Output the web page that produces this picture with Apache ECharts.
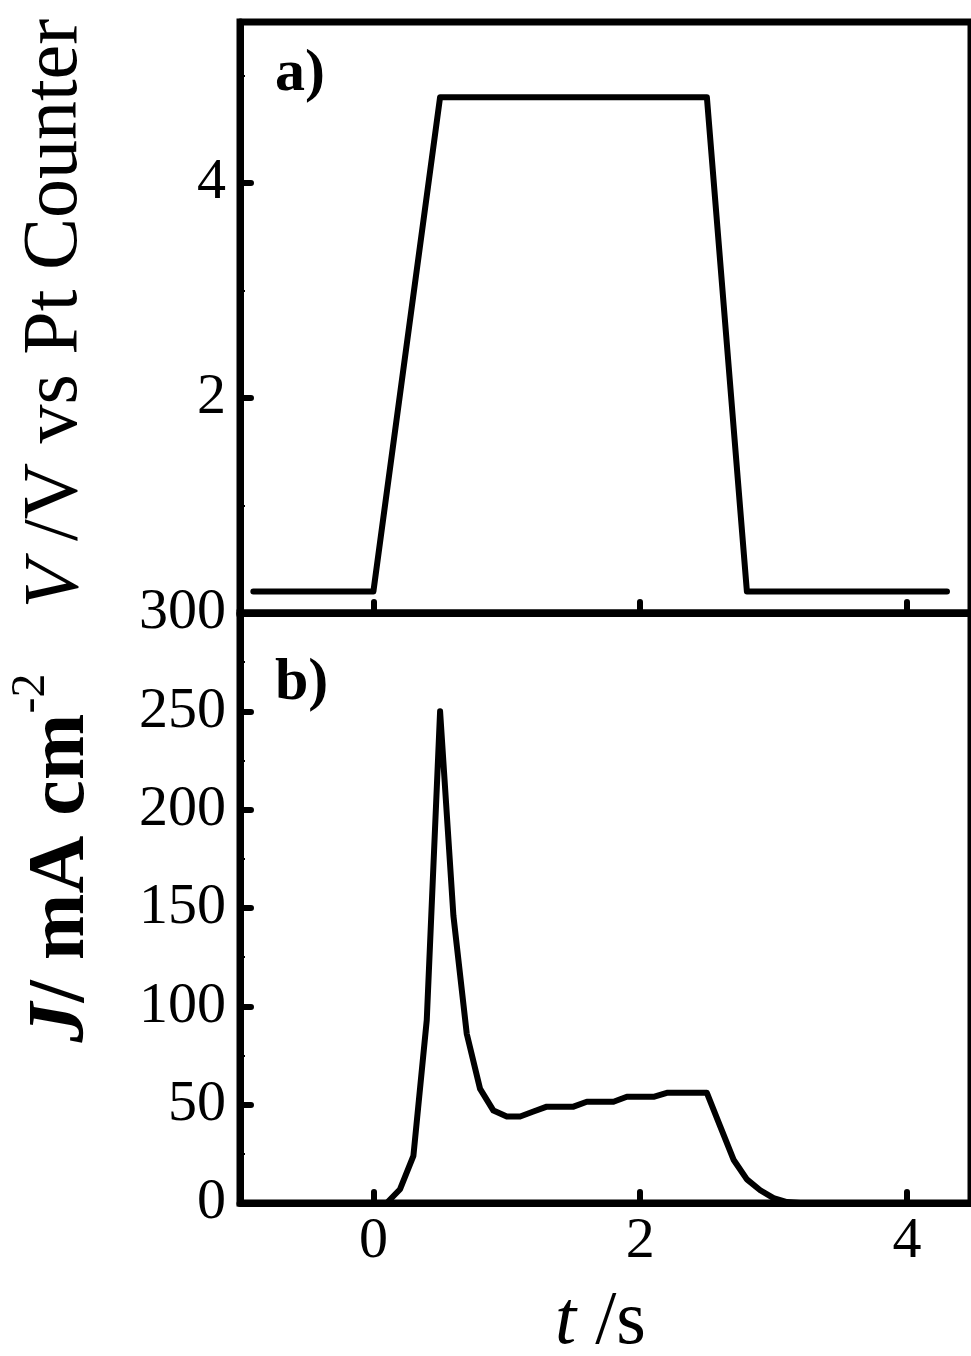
<!DOCTYPE html>
<html>
<head>
<meta charset="utf-8">
<script src="https://cdn.jsdelivr.net/npm/echarts@6/dist/echarts.min.js"></script>
<style>
  html, body { margin: 0; padding: 0; background: #fff; }
  #chart { width: 971px; height: 1356px; }
</style>
</head>
<body>
<div id="chart"></div>
<script>
// Panel a: applied potential step (V vs Pt counter electrode)
const timeV = [-0.9, 0, 0.5, 2.5, 2.8, 4.3];
const voltage = [0.2, 0.2, 4.8, 4.8, 0.2, 0.2];

// Panel b: current density response (mA cm^-2)
const timeJ = [0.1, 0.2, 0.3, 0.4, 0.5, 0.6, 0.7, 0.8, 0.9, 1.0,
               1.1, 1.2, 1.3, 1.4, 1.5, 1.6, 1.7, 1.8, 1.9, 2.0,
               2.1, 2.2, 2.3, 2.4, 2.5, 2.6, 2.7, 2.8, 2.9, 3.0,
               3.1, 3.2];
const current = [0, 7, 24, 93, 250, 146, 86, 58, 47, 44,
                 44, 46.5, 49, 49, 49, 51.5, 51.5, 51.5, 54, 54,
                 54, 56, 56, 56, 56, 39, 22, 12, 6.5, 2.5,
                 0.5, 0];

// Axis ticks
const timeTicks = [0, 2, 4];
const timeRange = [-1, 4.48];
const voltageRange = [0, 5.5];
const voltageStep = 2;
const currentRange = [0, 300];
const currentStep = 50;

const SERIF = "'Liberation Serif', 'Times New Roman', serif";
const INK = '#000';

const pairs = (xs, ys) => xs.map((x, i) => [x, ys[i]]);

const tickStyle = { show: true, inside: true, length: 11, lineStyle: { color: INK, width: 6, cap: 'round' } };
const minorStyle = { show: true, splitNumber: 2, length: 5, lineStyle: { color: INK, width: 2 } };
const axisLineStyle = { show: true, onZero: false, lineStyle: { color: INK, width: 7 } };
const labelStyle = { color: INK, fontFamily: SERIF, fontSize: 58 };

const lineSeries = (xi, yi, data) => ({
  type: 'line',
  xAxisIndex: xi,
  yAxisIndex: yi,
  data: data,
  symbol: 'none',
  smooth: false,
  lineStyle: { color: INK, width: 6, cap: 'round', join: 'round' },
  silent: true
});

const chart = echarts.init(document.getElementById('chart'), null, { renderer: 'canvas' });

const gridBase = { left: 240, right: 0, containLabel: false, outerBoundsMode: 'none',
                   show: true, borderColor: INK, borderWidth: 7, backgroundColor: 'transparent' };

chart.setOption({
  animation: false,
  backgroundColor: '#fff',
  grid: [
    Object.assign({}, gridBase, { top: 22, height: 591 }),
    Object.assign({}, gridBase, { top: 613, height: 590 })
  ],
  xAxis: [
    {
      type: 'value', gridIndex: 0, min: timeRange[0], max: timeRange[1],
      axisLine: axisLineStyle,
      axisTick: Object.assign({}, tickStyle, { customValues: timeTicks }),
      axisLabel: { show: false },
      splitLine: { show: false }
    },
    {
      type: 'value', gridIndex: 1, min: timeRange[0], max: timeRange[1],
      axisLine: axisLineStyle,
      axisTick: Object.assign({}, tickStyle, { customValues: timeTicks }),
      axisLabel: Object.assign({}, labelStyle, { customValues: timeTicks, margin: 10 }),
      splitLine: { show: false },
      name: '{i|t}{n| /s}',
      nameLocation: 'middle',
      nameGap: 82,
      nameTextStyle: {
        color: INK,
        padding: [0, 10, 0, 0],
        rich: {
          i: { fontFamily: SERIF, fontSize: 76, fontStyle: 'italic', color: INK },
          n: { fontFamily: SERIF, fontSize: 76, color: INK }
        }
      }
    }
  ],
  yAxis: [
    {
      type: 'value', gridIndex: 0, min: voltageRange[0], max: voltageRange[1], interval: voltageStep,
      axisLine: axisLineStyle,
      axisTick: tickStyle,
      minorTick: minorStyle,
      axisLabel: Object.assign({}, labelStyle, { margin: 14, showMinLabel: false, showMaxLabel: false }),
      splitLine: { show: false },
      minorSplitLine: { show: false },
      name: '{i|V}{n| /V vs Pt Counter}',
      nameLocation: 'middle',
      nameRotate: 90,
      nameGap: 145,
      nameTextStyle: {
        color: INK,
        padding: [0, 0, 0, 8],
        rich: {
          i: { fontFamily: SERIF, fontSize: 78, fontStyle: 'italic', color: INK },
          n: { fontFamily: SERIF, fontSize: 78, color: INK }
        }
      }
    },
    {
      type: 'value', gridIndex: 1, min: currentRange[0], max: currentRange[1], interval: currentStep,
      axisLine: axisLineStyle,
      axisTick: tickStyle,
      minorTick: minorStyle,
      axisLabel: Object.assign({}, labelStyle, { margin: 14 }),
      splitLine: { show: false },
      minorSplitLine: { show: false },
      name: '{j|J}{b|/ mA cm}{s|-2}',
      nameLocation: 'middle',
      nameRotate: 90,
      nameGap: 123,
      nameTextStyle: {
        color: INK,
        padding: [0, 0, 0, 100],
        rich: {
          j: { fontFamily: SERIF, fontSize: 80, fontStyle: 'italic', fontWeight: 'bold', lineHeight: 110, color: INK },
          b: { fontFamily: SERIF, fontSize: 80, fontWeight: 'bold', lineHeight: 110, color: INK },
          s: { fontFamily: SERIF, fontSize: 48, lineHeight: 48, verticalAlign: 'top', color: INK }
        }
      }
    }
  ],
  graphic: [
    { type: 'text', x: 275, y: 74, silent: true,
      style: { text: 'a)', fontFamily: SERIF, fontSize: 60, fontWeight: 'bold', fill: INK, align: 'left', verticalAlign: 'middle' } },
    { type: 'text', x: 275, y: 683, silent: true,
      style: { text: 'b)', fontFamily: SERIF, fontSize: 60, fontWeight: 'bold', fill: INK, align: 'left', verticalAlign: 'middle' } }
  ],
  series: [
    lineSeries(0, 0, pairs(timeV, voltage)),
    lineSeries(1, 1, pairs(timeJ, current))
  ]
});
</script>
</body>
</html>
